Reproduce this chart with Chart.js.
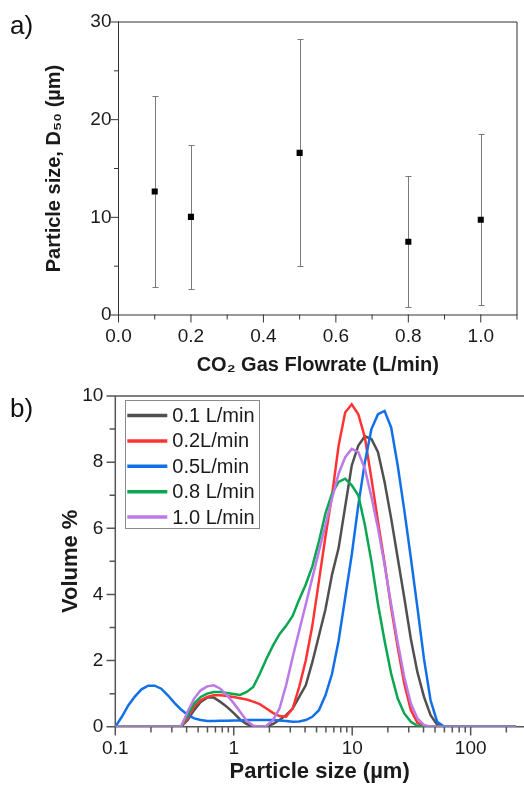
<!DOCTYPE html>
<html>
<head>
<meta charset="utf-8">
<script src="https://cdn.jsdelivr.net/npm/chart.js@4.4.1/dist/chart.umd.min.js"></script>
<style>
  html, body { margin: 0; padding: 0; background: #fff; }
  body { width: 524px; height: 785px; position: relative; overflow: hidden; font-family: "Liberation Sans", Arial, sans-serif; }
  .wrap { position: absolute; left: 0; width: 524px; }
  #wrapA { top: 0; height: 390px; }
  #wrapB { top: 370px; height: 415px; }
  .panel { position: absolute; left: 10px; font-size: 26px; line-height: 26px; color: #111; }
</style>
</head>
<body>
<div class="wrap" id="wrapA"><canvas id="chartA" width="524" height="390"></canvas></div>
<div class="wrap" id="wrapB"><canvas id="chartB" width="524" height="415"></canvas></div>
<div class="panel" style="top: 12px">a)</div>
<div class="panel" style="top: 395px">b)</div>
<script>
// ---------- a) D50 vs CO2 flowrate ----------
const flowRates = [0.1, 0.2, 0.5, 0.8, 1.0];
const d50 = [12.65, 10.05, 16.6, 7.5, 9.75];
const d50Low = [2.9, 2.7, 5.05, 0.8, 1.0];
const d50High = [22.4, 17.45, 28.25, 14.25, 18.55];

// ---------- b) size distributions ----------
const sizes = [0.1, 0.1136, 0.1291, 0.1467, 0.1666, 0.1893, 0.2151, 0.2444, 0.2777, 0.3155,
  0.3585, 0.4072, 0.4627, 0.5257, 0.5973, 0.6786, 0.771, 0.876, 0.9953, 1.131,
  1.285, 1.46, 1.659, 1.885, 2.141, 2.433, 2.764, 3.141, 3.568, 4.054,
  4.606, 5.234, 5.946, 6.756, 7.676, 8.721, 9.909, 11.26, 12.79, 14.53,
  16.51, 18.76, 21.32, 24.22, 27.52, 31.27, 35.52, 40.36, 45.86, 52.1,
  59.2, 67.26, 76.42, 86.83, 98.65, 112.1, 127.4, 144.7, 164.4, 186.8,
  212.2, 241.1];

const vol01 = [0, 0, 0, 0, 0, 0, 0, 0, 0, 0,
  0, 0.2, 0.5, 0.75, 0.88, 0.88, 0.75, 0.6, 0.42, 0.22,
  0.08, 0.02, 0, 0.02, 0.08, 0.2, 0.35, 0.55, 0.9, 1.25,
  1.95, 2.75, 3.55, 4.6, 5.4, 6.65, 7.9, 8.5, 8.78, 8.7,
  8.3, 7.4, 6.3, 5.1, 3.9, 2.65, 1.65, 0.9, 0.35, 0.06,
  0, 0, 0, 0, 0, 0, 0, 0, 0, 0, 0, 0];
const vol02 = [0, 0, 0, 0, 0, 0, 0, 0, 0, 0,
  0, 0.25, 0.6, 0.8, 0.9, 0.95, 0.95, 0.93, 0.9, 0.86,
  0.82, 0.76, 0.68, 0.55, 0.42, 0.32, 0.3, 0.55, 1.2, 2.0,
  3.05, 4.4, 5.75, 7.0, 8.5, 9.5, 9.75, 9.45, 8.75, 7.5,
  6.2, 4.95, 3.6, 2.4, 1.3, 0.5, 0.12, 0.02, 0, 0,
  0, 0, 0, 0, 0, 0, 0, 0, 0, 0, 0, 0];
const vol05 = [0, 0.3, 0.65, 0.92, 1.13, 1.24, 1.24, 1.15, 0.95, 0.72,
  0.52, 0.36, 0.25, 0.2, 0.17, 0.17, 0.18, 0.18, 0.19, 0.19,
  0.2, 0.2, 0.2, 0.2, 0.2, 0.19, 0.17, 0.15, 0.16, 0.2,
  0.3, 0.5, 0.95, 1.6, 2.6, 3.9, 5.2, 6.7, 8.0, 9.0,
  9.45, 9.55, 9.05, 7.9, 6.55, 5.1, 3.6, 2.05, 0.8, 0.15,
  0.01, 0, 0, 0, 0, 0, 0, 0, 0, 0, 0, 0];
const vol08 = [0, 0, 0, 0, 0, 0, 0, 0, 0, 0,
  0, 0.35, 0.7, 0.9, 1.0, 1.05, 1.05, 1.02, 0.99, 0.96,
  1.05, 1.2, 1.6, 2.05, 2.45, 2.8, 3.05, 3.35, 3.85, 4.3,
  4.85, 5.6, 6.45, 7.05, 7.4, 7.5, 7.3, 7.0, 6.1, 5.0,
  3.7, 2.6, 1.6, 0.85, 0.4, 0.15, 0.03, 0, 0, 0,
  0, 0, 0, 0, 0, 0, 0, 0, 0, 0, 0, 0];
const vol10 = [0, 0, 0, 0, 0, 0, 0, 0, 0, 0,
  0, 0.45, 0.85, 1.1, 1.22, 1.25, 1.15, 0.95, 0.72, 0.45,
  0.18, 0.03, 0, 0.02, 0.2, 0.55, 1.25, 2.1, 2.9, 3.7,
  4.5, 5.3, 6.1, 6.9, 7.65, 8.15, 8.4, 8.3, 7.8, 6.95,
  6.0, 4.9, 3.7, 2.55, 1.5, 0.7, 0.25, 0.05, 0, 0,
  0, 0, 0, 0, 0, 0, 0, 0, 0, 0, 0, 0];

const seriesLabels = ["0.1 L/min", "0.2L/min", "0.5L/min", "0.8 L/min", "1.0 L/min"];
const seriesValues = [vol01, vol02, vol05, vol08, vol10];
const seriesColors = ["#505050", "#ff3333", "#1170e8", "#0aa650", "#bb7ae6"];

const FONT = '"Liberation Sans", Arial, sans-serif';
Chart.defaults.font.family = FONT;
Chart.defaults.color = "#1a1a1a";

// frame + outward major/minor tick marks
function makeFrame(cfg){
    return {
        id: "frame",
        beforeDatasetsDraw(chart){
            const { ctx, chartArea: a, scales } = chart;
            ctx.save();
            ctx.strokeStyle = cfg.color;
            ctx.lineWidth = cfg.width;
            ctx.lineCap = "square";
            ctx.beginPath();
            ctx.moveTo(a.left, a.top);
            ctx.lineTo(a.left, a.bottom);
            ctx.lineTo(a.right, a.bottom);
            if (cfg.right) ctx.lineTo(a.right, a.top);
            else ctx.moveTo(a.right, a.top);
            ctx.lineTo(a.left, a.top);

            scales.x.ticks.forEach(t => {
                if (cfg.log) {
                    const m = t.value / Math.pow(10, Math.floor(Math.log10(t.value) + 1e-9));
                    if (Math.abs(m - Math.round(m)) > 1e-6) return;
                }
                const px = scales.x.getPixelForValue(t.value);
                if (px > a.right + 0.5) return;
                const len = t.label === "" ? cfg.minor : cfg.major;
                ctx.moveTo(px, a.bottom);
                ctx.lineTo(px, a.bottom + len);
            });
            scales.y.ticks.forEach(t => {
                const py = scales.y.getPixelForValue(t.value);
                const len = t.label === "" ? cfg.minor : cfg.major;
                ctx.moveTo(a.left, py);
                ctx.lineTo(a.left - len, py);
            });
            ctx.stroke();
            ctx.restore();
        }
    };
}

const errorBars = {
    id: "errorBars",
    beforeDatasetsDraw(chart){
        const { ctx, scales: { x, y } } = chart;
        ctx.save();
        ctx.strokeStyle = "#7a7a7a";
        ctx.lineWidth = 1;
        ctx.beginPath();
        flowRates.forEach((f, i) => {
            const px = Math.round(x.getPixelForValue(f)) + 0.5;
            const top = Math.round(y.getPixelForValue(d50High[i])) + 0.5;
            const bot = Math.round(y.getPixelForValue(d50Low[i])) + 0.5;
            ctx.moveTo(px, top); ctx.lineTo(px, bot);
            ctx.moveTo(px - 3, top); ctx.lineTo(px + 3, top);
            ctx.moveTo(px - 3, bot); ctx.lineTo(px + 3, bot);
        });
        ctx.stroke();
        ctx.restore();
    }
};

const boxLegend = {
    id: "boxLegend",
    afterDraw(chart){
        const { ctx, chartArea: a } = chart;
        const left = a.left + 10, top = a.top + 4;
        ctx.save();
        ctx.strokeStyle = "#8a8a8a";
        ctx.lineWidth = 1;
        ctx.strokeRect(Math.round(left) + 0.5, Math.round(top) + 0.5, 134, 128);
        ctx.font = "20px " + FONT;
        ctx.textBaseline = "middle";
        chart.data.datasets.forEach((ds, i) => {
            const yy = top + 15.5 + i * 25.4;
            ctx.strokeStyle = ds.borderColor;
            ctx.lineWidth = 3.5;
            ctx.beginPath();
            ctx.moveTo(left + 2, yy);
            ctx.lineTo(left + 42, yy);
            ctx.stroke();
            ctx.fillStyle = "#1a1a1a";
            ctx.fillText(ds.label, left + 47, yy + 1);
        });
        ctx.restore();
    }
};

// ================= CHART A =================
new Chart(document.getElementById("chartA"), {
    type: "scatter",
    data: {
        datasets: [{
            data: flowRates.map((f, i) => ({ x: f, y: d50[i] })),
            backgroundColor: "#000",
            borderWidth: 0,
            pointStyle: "rect",
            pointRadius: 4.3
        }]
    },
    options: {
        responsive: false,
        animation: false,
        events: [],
        layout: { autoPadding: false, padding: { left: 0, top: 22, right: 7, bottom: 0 } },
        plugins: { legend: { display: false }, tooltip: { enabled: false } },
        scales: {
            x: {
                type: "linear", min: 0, max: 1.1,
                grid: { display: false, tickLength: 10 },
                border: { display: false },
                ticks: {
                    stepSize: 0.1, autoSkip: false, maxRotation: 0, padding: 0,
                    font: { size: 19 },
                    callback: v => Math.round(v * 10) % 2 === 0 ? v.toFixed(1) : ""
                },
                title: {
                    display: true, text: "CO\u2082 Gas Flowrate (L/min)",
                    font: { size: 20, weight: "bold" }, padding: { top: 0, bottom: 13 }
                },
                afterFit: s => { s.height = 75; }
            },
            y: {
                min: 0, max: 30,
                grid: { display: false, tickLength: 7 },
                border: { display: false },
                ticks: {
                    stepSize: 5, padding: 0, font: { size: 19 },
                    callback: v => v % 10 === 0 ? v : ""
                },
                title: {
                    display: true, text: "Particle size, D\u2085\u2080 (\u00b5m)",
                    font: { size: 20, weight: "bold" }, padding: { top: 42, bottom: 0 }
                },
                afterFit: s => { s.width = 118.5; }
            }
        }
    },
    plugins: [makeFrame({ color: "#333", width: 1, right: true, major: 7, minor: 4 }), errorBars]
});

// ================= CHART B =================
new Chart(document.getElementById("chartB"), {
    type: "line",
    data: {
        datasets: seriesValues.map((vals, i) => ({
            label: seriesLabels[i],
            data: sizes.map((s, k) => ({ x: s, y: vals[k] })),
            borderColor: seriesColors[i],
            borderWidth: 2.5,
            pointRadius: 0,
            tension: 0,
            fill: false,
            order: seriesValues.length - i
        }))
    },
    options: {
        responsive: false,
        animation: false,
        events: [],
        layout: { autoPadding: false, padding: { left: 0, top: 26, right: 0, bottom: 0 } },
        plugins: { legend: { display: false }, tooltip: { enabled: false } },
        scales: {
            x: {
                type: "logarithmic", min: 0.1, max: 282,
                grid: { display: false, tickLength: 11 },
                border: { display: false },
                ticks: {
                    autoSkip: false, maxRotation: 0, padding: 0, font: { size: 19 },
                    callback: v => {
                        const l = Math.log10(v);
                        return Math.abs(l - Math.round(l)) < 1e-9 ? String(v) : "";
                    }
                },
                title: {
                    display: true, text: "Particle size (\u00b5m)",
                    font: { size: 22, weight: "bold" }, padding: { top: 0, bottom: 0 }
                },
                afterFit: s => { s.height = 58.3; }
            },
            y: {
                min: 0, max: 10,
                grid: { display: false, tickLength: 9 },
                border: { display: false },
                ticks: {
                    stepSize: 1, padding: 3, font: { size: 19 },
                    callback: v => v % 2 === 0 ? v : ""
                },
                title: {
                    display: true, text: "Volume %",
                    font: { size: 22, weight: "bold" }, padding: { top: 58, bottom: 0 }
                },
                afterFit: s => { s.width = 115.3; }
            }
        }
    },
    plugins: [makeFrame({ color: "#555", width: 1.5, right: false, log: true, major: 8, minor: 5 }), boxLegend]
});
</script>
</body>
</html>
